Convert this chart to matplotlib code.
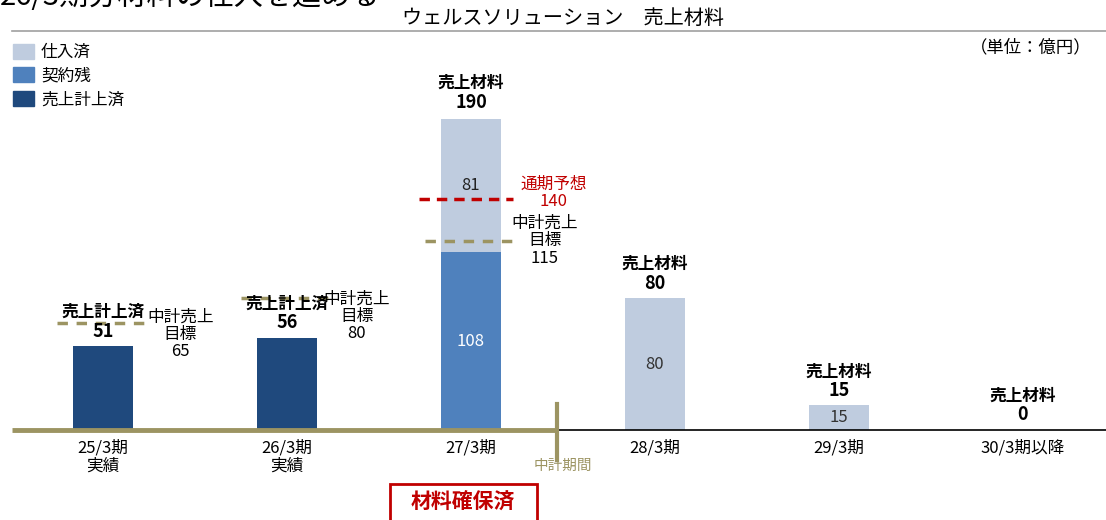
import matplotlib.pyplot as plt
from matplotlib.patches import Patch, Rectangle
from matplotlib.lines import Line2D

plt.rcParams['font.family'] = ['Noto Sans CJK JP', 'DejaVu Sans']

# Data (億円)
periods = ["25/3期\n実績", "26/3期\n実績", "27/3期", "28/3期", "29/3期", "30/3期以降"]
recorded = [51, 56, 0, 0, 0, 0]          # 売上計上済
contracted = [0, 0, 108, 0, 0, 0]        # 契約残
purchased = [0, 0, 81, 80, 15, 0]        # 仕入済
totals = [51, 56, 190, 80, 15, 0]
top_titles = ["売上計上済", "売上計上済", "売上材料", "売上材料", "売上材料", "売上材料"]
plan_targets = [65, 80, 115]             # 中計売上目標
forecast_27 = 140                        # 通期予想

c_light = "#BFCCDF"
c_mid = "#4F81BD"
c_dark = "#1F497D"
c_olive = "#9C9462"
c_red = "#C00000"

PX = 1 / 1.647  # value units per pixel

fig = plt.figure(figsize=(11.06, 5.2), dpi=100)
ax = fig.add_axes([0, 90 / 520, 1, 390 / 520])
ax.set_xlim(-103 / 184, (1106 - 103) / 184)
ax.set_ylim(0, 390 * PX)
for s in ax.spines.values():
    s.set_visible(False)
ax.tick_params(axis="x", length=0, labelsize=12, pad=7)
ax.set_yticks([])

x = list(range(len(periods)))
w = 60 / 184
ax.bar(x, recorded, w, color=c_dark)
ax.bar(x, contracted, w, bottom=recorded, color=c_mid)
base2 = [a + b for a, b in zip(recorded, contracted)]
ax.bar(x, purchased, w, bottom=base2, color=c_light)
ax.set_xticks(x, periods)
for lbl in ax.get_xticklabels():
    lbl.set_linespacing(1.05)

# labels above each bar
for i, (t, v) in enumerate(zip(top_titles, totals)):
    ax.text(i, v + 15 * PX, str(v), ha="center", va="center", fontsize=13, fontweight="bold", zorder=4)
    ax.text(i, v + 34 * PX, t, ha="center", va="center", fontsize=12, fontweight="bold", zorder=4)

# values inside segments
ax.text(2, contracted[2] / 2, str(contracted[2]), ha="center", va="center", fontsize=12, color="white")
ax.text(2, base2[2] + purchased[2] / 2, str(purchased[2]), ha="center", va="center", fontsize=12, color="#222222")
for i in (3, 4):
    ax.text(i, purchased[i] / 2, str(purchased[i]), ha="center", va="center", fontsize=12, color="#333333")

# mid-term plan target lines
dash = (0, (3, 2.5))
for i, tgt in enumerate(plan_targets[:2]):
    ax.plot([i - 0.25, i + 0.23], [tgt, tgt], color=c_olive, lw=2.5, ls=dash, zorder=1)
ax.plot([1.72, 2.23], [forecast_27, forecast_27], color=c_red, lw=2.5, ls=(0, (3, 2)), zorder=3)
ax.plot([1.75, 2.23], [plan_targets[2], plan_targets[2]], color=c_olive, lw=2.5, ls=dash, zorder=3)

ax.text(0.42, 70 * PX, f"中計売上\n目標\n{plan_targets[0]}", ha="center", va="bottom", fontsize=12, linespacing=1.0)
ax.text(1.38, 88 * PX, f"中計売上\n目標\n{plan_targets[1]}", ha="center", va="bottom", fontsize=12, linespacing=1.0)
ax.text(2.45, 220 * PX, f"通期予想\n{forecast_27}", ha="center", va="bottom", fontsize=12, color=c_red, linespacing=1.0)
ax.text(2.40, 163 * PX, f"中計売上\n目標\n{plan_targets[2]}", ha="center", va="bottom", fontsize=12, linespacing=1.05)

# axis lines: mid-term plan period in olive
x_split = (557 - 103) / 184
ax.plot([(12 - 103) / 184, x_split], [0, 0], color=c_olive, lw=3.5, solid_capstyle="butt", clip_on=False)
ax.plot([x_split, 6], [0, 0], color="black", lw=1.2, clip_on=False)
ax.plot([x_split, x_split], [-30 * PX, 26 * PX], color=c_olive, lw=3, clip_on=False)
ax.text(x_split + 0.03, -36 * PX, "中計期間", ha="center", va="center", fontsize=10.5, color=c_olive)

# header
fig.text(0.0, 1 - 5 / 520, "26/3期分材料の仕入を進める", fontsize=21, va="baseline", ha="left")
fig.text(563 / 1106, 1 - 18 / 520, "ウェルスソリューション　売上材料", fontsize=14.5, ha="center", va="center")
fig.add_artist(Line2D([12 / 1106, 1], [1 - 31 / 520] * 2, color="#A0A0A0", lw=1.2))
fig.text(1 - 14 / 1106, 1 - 47 / 520, "（単位：億円）", fontsize=12.5, ha="right", va="center")

handles = [Patch(color=c_light, label="仕入済"), Patch(color=c_mid, label="契約残"),
           Patch(color=c_dark, label="売上計上済")]
fig.legend(handles=handles, loc="upper left", bbox_to_anchor=(1 / 1106, 1 - 32 / 520), frameon=False,
           fontsize=12, handlelength=1.3, handleheight=1.0, handletextpad=0.4, labelspacing=0.4,
           borderaxespad=0.3)

# boxed note at the bottom
fig.add_artist(Rectangle((390 / 1106, -0.02), 147 / 1106, 36 / 520 + 0.02, fill=False,
                         edgecolor=c_red, lw=2, transform=fig.transFigure))
fig.text(463 / 1106, 18 / 520, "材料確保済", fontsize=15, fontweight="bold", color=c_red, ha="center", va="center")

fig.savefig("out.png", dpi=100)
